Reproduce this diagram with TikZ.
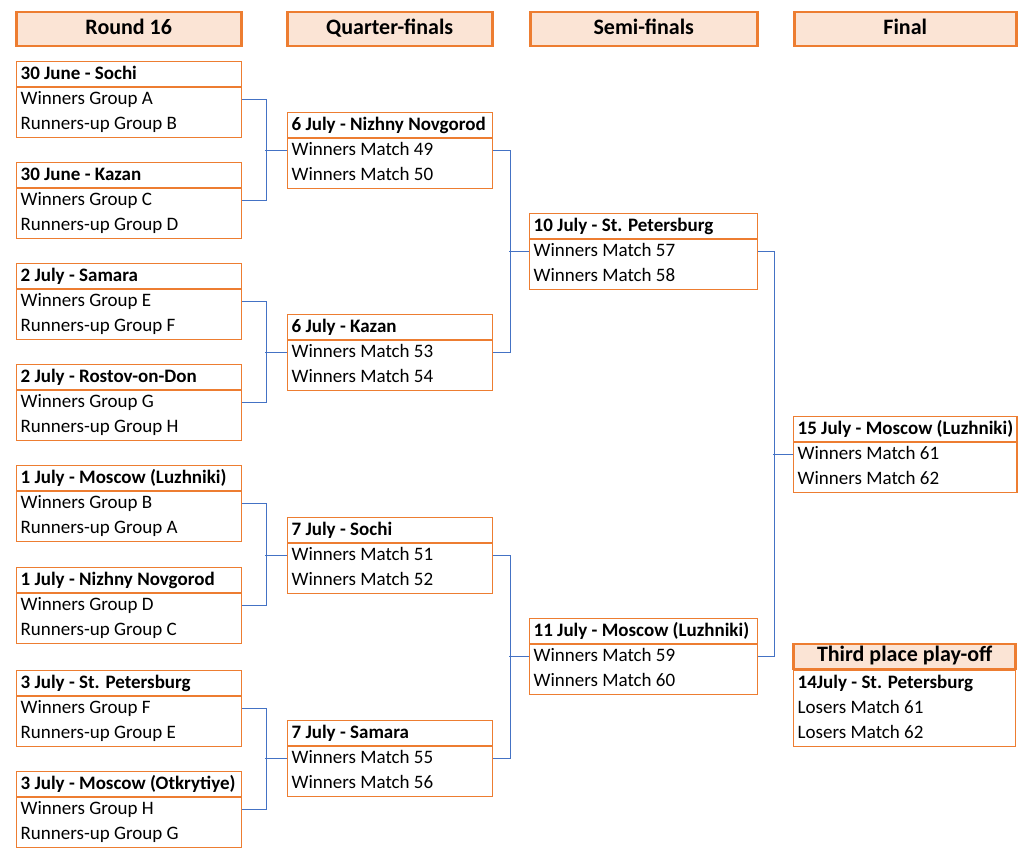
\documentclass[tikz,border=0pt]{standalone}
\usepackage{fontspec}
\setmainfont{Carlito}
\usetikzlibrary{shapes.multipart, positioning}
\definecolor{boxorange}{HTML}{ED7D31}
\definecolor{headfill}{HTML}{FBE4D5}
\definecolor{linkblue}{HTML}{4472C4}
\begin{document}
\begin{tikzpicture}[
	x=1pt, y=1pt,
	head/.style={rectangle, draw=boxorange, line width=2.5pt, fill=headfill,
		minimum width=#1, minimum height=34, inner sep=0pt, anchor=north west,
		text height=15, text depth=4,
		font=\fontsize{22}{26}\selectfont\bfseries},
	match/.style={rectangle split, rectangle split parts=3,
		rectangle split draw splits=false, rectangle split part align=left,
		draw=boxorange, line width=1.3pt, minimum width=#1, inner xsep=4pt,
		inner ysep=0pt, anchor=north west,
		font=\fontsize{19}{24}\selectfont},
	sepline/.style={draw=boxorange, line width=1.3pt},
	line/.style={draw=linkblue, line width=1.2pt},
	]
	\useasboundingbox (0,0) rectangle (1024,-861);
	
	% column headers
	\node [head=225] (h16) at (15,-11) {Round 16};
	\node [head=205] (hqf) at (286,-11) {Quarter-finals};
	\node [head=227] (hsf) at (529,-11) {Semi-finals};
	\node [head=222] (hfin) at (793,-11) {Final};
	
	% round of 16
	\node [match=225] (r1) at (16,-61) {\strut\textbf{30 June - Sochi}\nodepart{two}\strut Winners Group A\nodepart{three}\strut Runners-up Group B};
	\node [match=225] (r2) at (16,-162) {\strut\textbf{30 June - Kazan}\nodepart{two}\strut Winners Group C\nodepart{three}\strut Runners-up Group D};
	\node [match=225] (r3) at (16,-263) {\strut\textbf{2 July - Samara}\nodepart{two}\strut Winners Group E\nodepart{three}\strut Runners-up Group F};
	\node [match=225] (r4) at (16,-364) {\strut\textbf{2 July - Rostov-on-Don}\nodepart{two}\strut Winners Group G\nodepart{three}\strut Runners-up Group H};
	\node [match=225] (r5) at (16,-465) {\strut\textbf{1 July - Moscow (Luzhniki)}\nodepart{two}\strut Winners Group B\nodepart{three}\strut Runners-up Group A};
	\node [match=225] (r6) at (16,-567) {\strut\textbf{1 July - Nizhny Novgorod}\nodepart{two}\strut Winners Group D\nodepart{three}\strut Runners-up Group C};
	\node [match=225] (r7) at (16,-670) {\strut\textbf{3 July - St. Petersburg}\nodepart{two}\strut Winners Group F\nodepart{three}\strut Runners-up Group E};
	\node [match=225] (r8) at (16,-771) {\strut\textbf{3 July - Moscow (Otkrytiye)}\nodepart{two}\strut Winners Group H\nodepart{three}\strut Runners-up Group G};
	
	% quarter-finals
	\node [match=205] (q1) at (287,-112) {\strut\textbf{6 July - Nizhny Novgorod}\nodepart{two}\strut Winners Match 49\nodepart{three}\strut Winners Match 50};
	\node [match=205] (q2) at (287,-314) {\strut\textbf{6 July - Kazan}\nodepart{two}\strut Winners Match 53\nodepart{three}\strut Winners Match 54};
	\node [match=205] (q3) at (287,-517) {\strut\textbf{7 July - Sochi}\nodepart{two}\strut Winners Match 51\nodepart{three}\strut Winners Match 52};
	\node [match=205] (q4) at (287,-720) {\strut\textbf{7 July - Samara}\nodepart{two}\strut Winners Match 55\nodepart{three}\strut Winners Match 56};
	
	% semi-finals
	\node [match=228] (s1) at (529,-213) {\strut\textbf{10 July - St. Petersburg}\nodepart{two}\strut Winners Match 57\nodepart{three}\strut Winners Match 58};
	\node [match=228] (s2) at (529,-618) {\strut\textbf{11 July - Moscow (Luzhniki)}\nodepart{two}\strut Winners Match 59\nodepart{three}\strut Winners Match 60};
	
	% final and third place
	\node [match=222] (fin) at (793,-416) {\strut\textbf{15 July - Moscow (Luzhniki)}\nodepart{two}\strut Winners Match 61\nodepart{three}\strut Winners Match 62};
	\node [match=222] (third) at (793,-670) {\strut\textbf{14July - St. Petersburg}\nodepart{two}\strut Losers Match 61\nodepart{three}\strut Losers Match 62};
	\node [head=222, minimum height=25, anchor=south] (hthird) at (third.north) {Third place play-off};
	
	% title rules
	\draw [sepline] (r1.text split west) -- (r1.text split east);
	\draw [sepline] (r2.text split west) -- (r2.text split east);
	\draw [sepline] (r3.text split west) -- (r3.text split east);
	\draw [sepline] (r4.text split west) -- (r4.text split east);
	\draw [sepline] (r5.text split west) -- (r5.text split east);
	\draw [sepline] (r6.text split west) -- (r6.text split east);
	\draw [sepline] (r7.text split west) -- (r7.text split east);
	\draw [sepline] (r8.text split west) -- (r8.text split east);
	\draw [sepline] (q1.text split west) -- (q1.text split east);
	\draw [sepline] (q2.text split west) -- (q2.text split east);
	\draw [sepline] (q3.text split west) -- (q3.text split east);
	\draw [sepline] (q4.text split west) -- (q4.text split east);
	\draw [sepline] (s1.text split west) -- (s1.text split east);
	\draw [sepline] (s2.text split west) -- (s2.text split east);
	\draw [sepline] (fin.text split west) -- (fin.text split east);
	
	% bracket links
	\path [line] (r1.two east) -- ++(24,0) |- (r2.two east);
	\path [line] (r3.two east) -- ++(24,0) |- (r4.two east);
	\path [line] (r5.two east) -- ++(24,0) |- (r6.two east);
	\path [line] (r7.two east) -- ++(24,0) |- (r8.two east);
	\path [line] (q1.two west) -- ++(-22,0);
	\path [line] (q2.two west) -- ++(-22,0);
	\path [line] (q3.two west) -- ++(-22,0);
	\path [line] (q4.two west) -- ++(-22,0);
	\path [line] (q1.two east) -- ++(17,0) |- (q2.two east);
	\path [line] (q3.two east) -- ++(17,0) |- (q4.two east);
	\path [line] (s1.two west) -- ++(-20,0);
	\path [line] (s2.two west) -- ++(-20,0);
	\path [line] (s1.two east) -- ++(16,0) |- (s2.two east);
	\path [line] (fin.two west) -- ++(-20,0);
\end{tikzpicture}
\end{document}
